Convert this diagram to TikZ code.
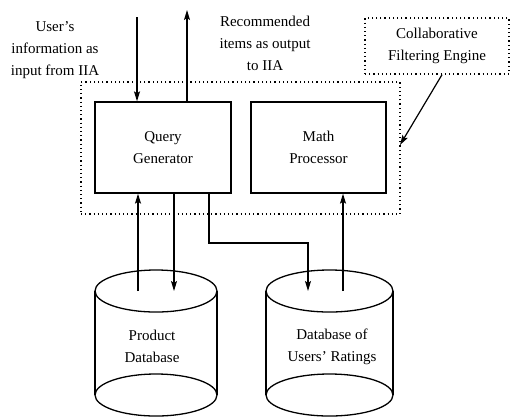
\documentclass[tikz,border=0pt]{standalone}
\usepackage{fontspec}
\setmainfont{Liberation Serif}
\usetikzlibrary{arrows.meta}
\begin{document}
\begin{tikzpicture}[x=1pt,y=-1pt,
  every node/.style={font=\fontsize{15}{22}\selectfont, align=center, inner sep=0pt},
  box/.style={draw, line width=1.3pt, minimum width=#1, minimum height=91pt},
  dotbox/.style={draw, line width=1.3pt, dash pattern=on 1.2pt off 3pt},
  arr/.style={line width=1.2pt, -{Stealth[length=10pt,width=6pt,inset=2pt]}},
  ln/.style={line width=1.3pt}]
\useasboundingbox (0,0) rectangle (510,416);
% engine
\node[dotbox, minimum width=319pt, minimum height=132pt] (engine) at (240.5,148) {};
\node[dotbox, minimum width=144pt, minimum height=56pt] (cfe) at (437,46) {Collaborative\\Filtering Engine};
\node[box=136pt] (qg) at (163,147.5) {Query\\Generator};
\node[box=135pt] (mp) at (318.5,147.5) {Math\\Processor};
% labels
\node (inlbl) at (55,50) {User's\\information as\\input from IIA};
\node (outlbl) at (265,43) {Recommended\\items as output\\to IIA};
% cylinders
\draw[ln] (95,291) -- (95,395) (217,291) -- (217,395);
\draw[ln] (156,291) ellipse [x radius=61, y radius=21];
\draw[ln] (156,395) ellipse [x radius=61, y radius=21];
\node (pdb) at (152,346.5) {Product\\Database};
\draw[ln] (266,291) -- (266,395) (393,291) -- (393,395);
\draw[ln] (329.5,291) ellipse [x radius=63.5, y radius=21];
\draw[ln] (329.5,395) ellipse [x radius=63.5, y radius=21];
\node (udb) at (332,346.5) {Database of\\Users' Ratings};
% coordinates
\coordinate (in1) at (137,17);
\coordinate (out1) at (187,10);
\coordinate (p1) at (138,291);
\coordinate (p2) at (174,291);
\coordinate (q3) at (209,243);
\coordinate (u1) at (308,291);
\coordinate (u2) at (343,291);
\coordinate (e1) at (400,145);
% connectors
\draw[arr] (in1) -- (in1 |- qg.north);
\draw[arr] (out1 |- qg.north) -- (out1);
\draw[arr] ([xshift=5pt]cfe.south) -- (e1);
\draw[arr] (p1) -- (p1 |- qg.south);
\draw[arr] (p2 |- qg.south) -- (p2);
\draw[arr] (q3 |- qg.south) -- (q3) -| (u1);
\draw[arr] (u2) -- (u2 |- mp.south);
\end{tikzpicture}
\end{document}
